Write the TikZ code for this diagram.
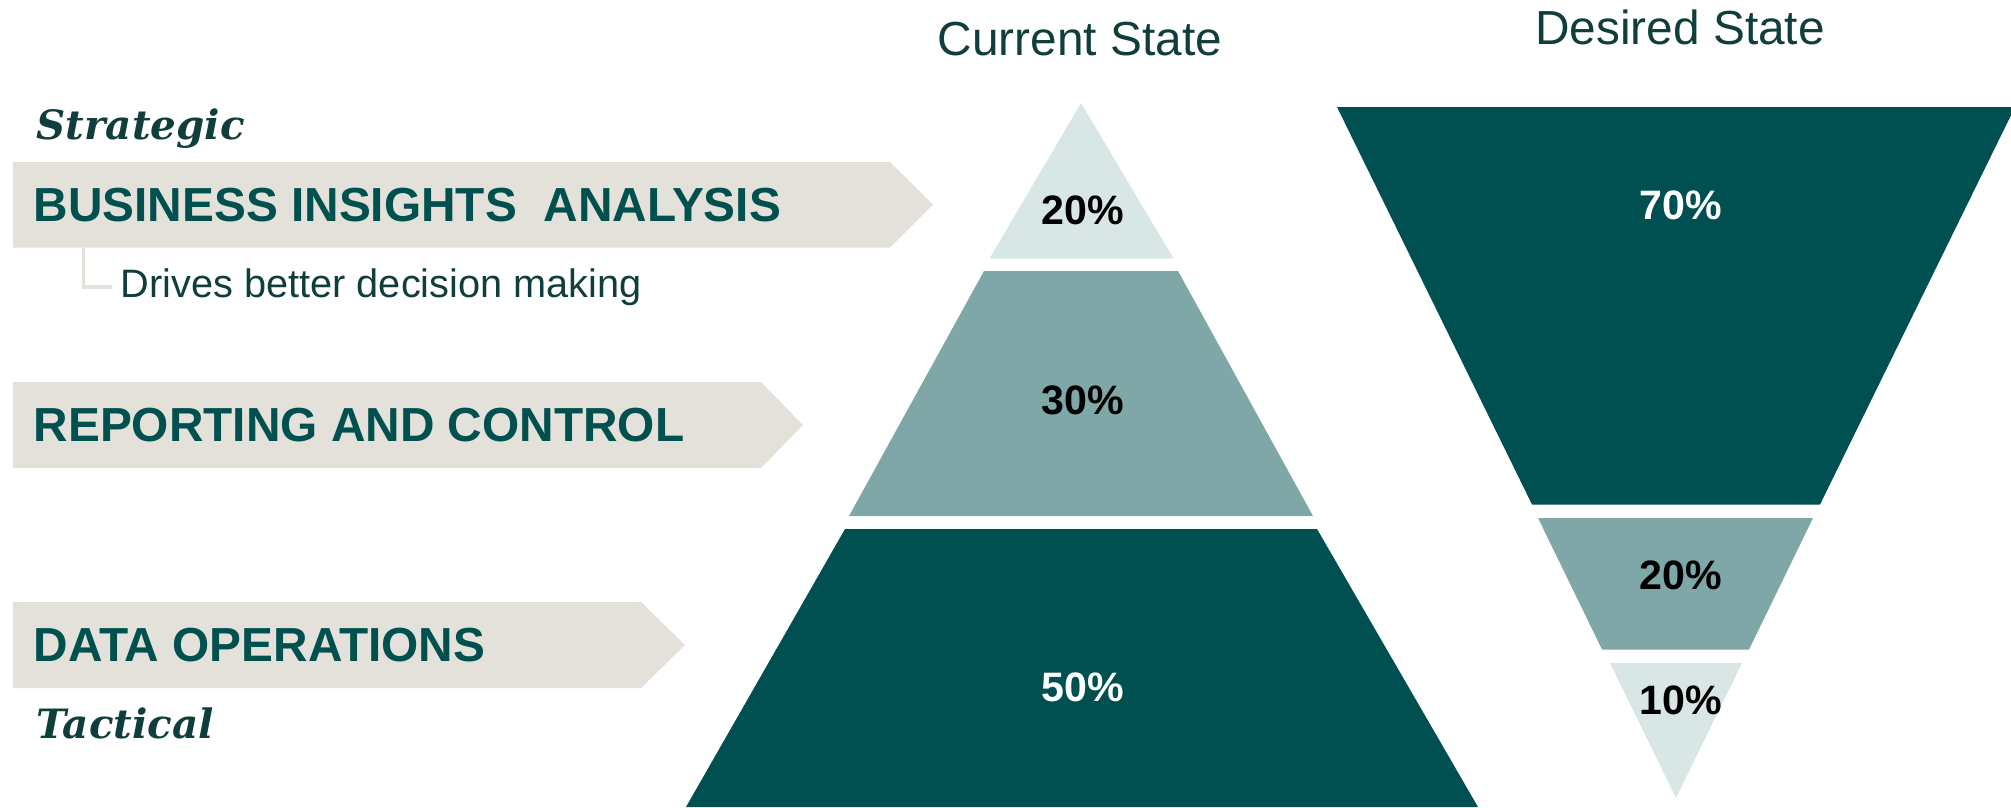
\documentclass[tikz,border=0pt]{standalone}
\usepackage{fontspec}
\setmainfont{Liberation Sans}
\newfontfamily\levelfont{DejaVu Serif}
\definecolor{tealdark}{RGB}{0,80,81}
\definecolor{tealmid}{RGB}{127,167,167}
\definecolor{teallight}{RGB}{217,230,230}
\definecolor{bannerfill}{RGB}{228,225,218}
\definecolor{inktext}{RGB}{0,80,79}
\definecolor{titletext}{RGB}{16,62,60}
\tikzset{
  banner/.style={fill=bannerfill},
  bantext/.style={anchor=west,inner sep=0pt,font=\fontsize{13.6}{16}\selectfont\bfseries,text=inktext},
  level/.style={anchor=base west,inner sep=0pt,font=\levelfont\fontsize{11.5}{13}\selectfont\bfseries\itshape,text=titletext},
  subtext/.style={anchor=base west,inner xsep=2.3pt,inner ysep=0pt,font=\fontsize{11.3}{14}\selectfont,text=titletext},
  stem/.style={draw=bannerfill,line width=1pt},
  heading/.style={anchor=base,inner sep=0pt,font=\fontsize{13.6}{16}\selectfont,text=titletext},
  pct/.style={inner sep=0pt,font=\fontsize{11.7}{14}\selectfont\bfseries},
}

\begin{document}
\begin{tikzpicture}[x=0.1mm,y=-0.1mm]
  \useasboundingbox (0,0) rectangle (2011,807);

  % level banners on the left
  \fill[banner] (13,162) -- (890,162) -- (933,204.5) -- (890,247.5) -- (13,247.5) -- cycle;
  \fill[banner] (13,382) -- (761,382) -- (803,425) -- (761,468) -- (13,468) -- cycle;
  \fill[banner] (13,602) -- (641,602) -- (685,645) -- (641,688) -- (13,688) -- cycle;
  \node[level] (strat) at (36,139) {Strategic};
  \node[bantext] (bi) at (33,205.5) {BUSINESS INSIGHTS\ \ ANALYSIS};
  \node[subtext] (drives) at (112,297) {Drives better decision making};
  \coordinate (stemtop) at (83.3,248);
  \draw[stem] (stemtop) |- (drives.west);
  \node[bantext] (rc) at (33,425.5) {REPORTING AND CONTROL};
  \node[bantext] (dops) at (33,645.5) {DATA OPERATIONS};
  \node[level] (tact) at (36,738) {Tactical};

  % current state pyramid
  \node[heading] (curr) at (1080,55) {Current State};
  \fill[teallight] (1081,103) -- (1173.5,258.5) -- (989.5,258.5) -- cycle;
  \fill[tealmid] (984,271) -- (1178,271) -- (1313,516) -- (849,516) -- cycle;
  \fill[tealdark] (845,529) -- (1317,529) -- (1478,807) -- (686,807) -- cycle;
  \node[pct,text=black] (c20) at (1083,210) {20\%};
  \node[pct,text=black] (c30) at (1083,400) {30\%};
  \node[pct,text=white] (c50) at (1083,687) {50\%};

  % desired state, upside down
  \node[heading] (des) at (1680,44) {Desired State};
  \fill[tealdark] (1337,107) -- (2015,107) -- (1820,504.5) -- (1532,504.5) -- cycle;
  \fill[tealmid] (1538,518) -- (1813,518) -- (1749,649.5) -- (1602,649.5) -- cycle;
  \fill[teallight] (1610,663) -- (1742,663) -- (1676,798) -- cycle;
  \node[pct,text=white] (d70) at (1681,205) {70\%};
  \node[pct,text=black] (d20) at (1681,575) {20\%};
  \node[pct,text=black] (d10) at (1681,700) {10\%};
\end{tikzpicture}
\end{document}
